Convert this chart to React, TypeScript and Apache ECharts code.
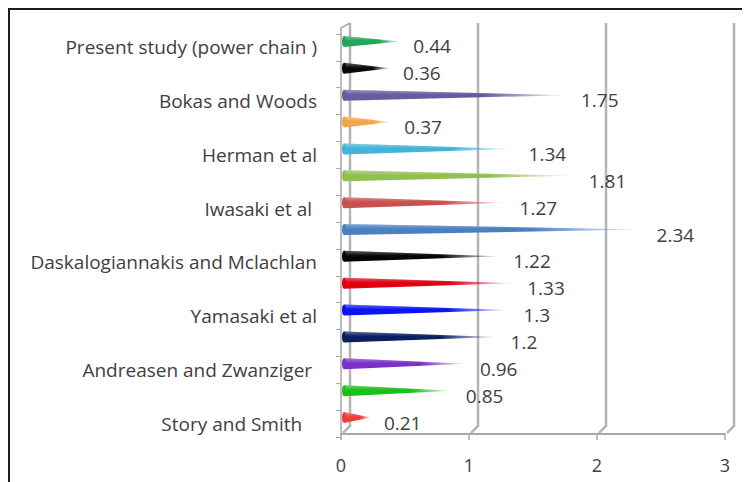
import React, { useEffect, useRef } from "react";
import * as echarts from "echarts";

const CATEGORIES = [
  "Present study (power chain )",
  "",
  "Bokas and Woods",
  "",
  "Herman et al",
  "",
  "Iwasaki et al ",
  "",
  "Daskalogiannakis and Mclachlan",
  "",
  "Yamasaki et al",
  "",
  "Andreasen and Zwanziger ",
  "",
  "Story and Smith   ",
];

const VALUES = [0.44, 0.36, 1.75, 0.37, 1.34, 1.81, 1.27, 2.34, 1.22, 1.33, 1.3, 1.2, 0.96, 0.85, 0.21];

const COLORS = [
  "#1fa75a",
  "#0a0a0a",
  "#6b5a9e",
  "#f3a54a",
  "#45b2da",
  "#92c050",
  "#c9504e",
  "#4a7fc0",
  "#050505",
  "#e00010",
  "#0a14f0",
  "#0b2060",
  "#7b30c8",
  "#18c018",
  "#f03c3c",
];

const X_TICKS = [0, 1, 2, 3];

const FONT = "'Open Sans', sans-serif";
const TEXT = "#404040";

function rgba(hex: string, a: number) {
  const n = parseInt(hex.slice(1), 16);
  return `rgba(${(n >> 16) & 255},${(n >> 8) & 255},${n & 255},${a})`;
}

const renderCone = (params: any, api: any) => {
  const v = api.value(0);
  const idx = api.value(1);
  const base = api.coord([0, idx]);
  const tip = api.coord([v, idx]);
  const color = COLORS[params.dataIndex];
  const cy = base[1] - 6;
  const x0 = base[0] + 3;
  const x1 = tip[0] + 3;
  const h = 5.5;
  const pts = [
    [x0, cy - h],
    [x1, cy],
    [x0, cy + h],
  ];
  return {
    type: "group",
    children: [
      {
        type: "polygon",
        shape: { points: pts },
        style: {
          fill: new echarts.graphic.LinearGradient(0, 0, 1, 0, [
            { offset: 0, color },
            { offset: 0.62, color },
            { offset: 1, color: rgba(color, 0.05) },
          ]),
        },
      },
      {
        type: "polygon",
        shape: { points: pts },
        style: {
          fill: new echarts.graphic.LinearGradient(0, 0, 0, 1, [
            { offset: 0, color: "rgba(255,255,255,0.35)" },
            { offset: 0.45, color: "rgba(255,255,255,0)" },
            { offset: 1, color: "rgba(0,0,0,0)" },
          ]),
        },
      },
      {
        type: "ellipse",
        shape: { cx: x0, cy, rx: 2, ry: h },
        style: { fill: color },
      },
      {
        type: "text",
        x: tip[0] + 16,
        y: base[1] - 1,
        z2: 10,
        style: {
          text: String(v),
          fill: TEXT,
          fontSize: 19,
          fontFamily: FONT,
          verticalAlign: "middle",
          align: "left",
        },
      },
    ],
  };
};

const renderWall = (params: any, api: any) => {
  const v = api.value(0);
  const cs = params.coordSys;
  const floorY = cs.y + cs.height - 3;
  const topY = cs.y - 11;
  const x = api.coord([v, 0])[0];
  const d = 9;
  const children: any[] = [
    {
      type: "polyline",
      shape: {
        points: [
          [x + d, topY],
          [x + d, floorY - 8],
          [x + 2, floorY - 1],
        ],
      },
      style: { stroke: "#b5b5b5", lineWidth: 2.5, fill: null },
    },
  ];
  if (v === 0) {
    children.push({
      type: "polyline",
      shape: {
        points: [
          [x, floorY],
          [x, topY + 5],
          [x + d, topY],
        ],
      },
      style: { stroke: "#a8a8a8", lineWidth: 1.5, fill: null },
    });
  }
  return { type: "group", children };
};

export default function App() {
  const ref = useRef<HTMLDivElement>(null);
  useEffect(() => {
    const chart = echarts.init(ref.current!, null, { renderer: "svg" });
    chart.setOption({
      animation: false,
      backgroundColor: "#ffffff",
      grid: { left: 331, right: 25, top: 24, bottom: 45, containLabel: false },
      xAxis: {
        type: "value",
        min: 0,
        max: 3,
        interval: 1,
        offset: -3,
        splitLine: { show: false },
        axisLine: { show: true, lineStyle: { color: "#a8a8a8", width: 2 } },
        axisTick: { show: true, length: 6, lineStyle: { color: "#a8a8a8", width: 1.5 } },
        axisLabel: { color: TEXT, fontSize: 18, fontFamily: FONT, margin: 22 },
      },
      yAxis: {
        type: "category",
        inverse: true,
        data: CATEGORIES,
        axisLine: { show: false },
        axisTick: { show: true, length: 5, alignWithLabel: false, lineStyle: { color: "#a8a8a8" } },
        axisLabel: { interval: 0, color: TEXT, fontSize: 19, fontFamily: FONT, margin: 24 },
        splitLine: { show: false },
      },
      series: [
        {
          type: "custom",
          name: "walls",
          z: 1,
          silent: true,
          renderItem: renderWall,
          encode: { x: 0, y: 1 },
          data: X_TICKS.map((v) => [v, 0]),
        },
        {
          type: "custom",
          name: "cones",
          z: 3,
          renderItem: renderCone,
          encode: { x: 0, y: 1 },
          data: VALUES.map((v, i) => [v, i]),
        },
      ],
    });
    return () => chart.dispose();
  }, []);
  return (
    <div
      style={{
        width: 742,
        height: 474,
        borderLeft: "2px solid #1c1c1c",
        borderTop: "2px solid #1c1c1c",
        boxSizing: "border-box",
        background: "#fff",
      }}
    >
      <div ref={ref} style={{ width: 740, height: 472 }} />
    </div>
  );
}
